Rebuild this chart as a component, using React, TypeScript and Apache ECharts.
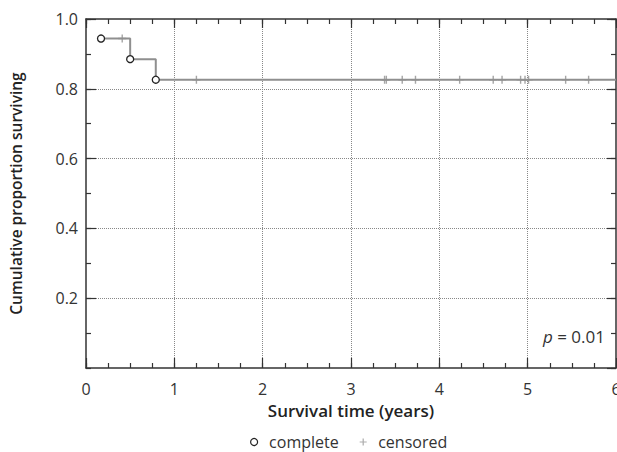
import React, { useEffect, useRef } from "react";
import * as echarts from "echarts";

// Kaplan–Meier step curve (time in years, cumulative proportion surviving)
const stepTimes = [0.17, 0.5, 0.79, 6];
const stepSurv = [0.944, 0.885, 0.826, 0.826];

// complete (event) points
const eventTimes = [0.17, 0.5, 0.79];
const eventSurv = [0.944, 0.885, 0.826];

// censored points
const censorTimes = [0.41, 1.25, 3.38, 3.4, 3.58, 3.73, 4.23, 4.61, 4.71, 4.92, 4.97, 5.01, 5.43, 5.69];
const censorSurv = [0.944, 0.826, 0.826, 0.826, 0.826, 0.826, 0.826, 0.826, 0.826, 0.826, 0.826, 0.826, 0.826, 0.826];

const xTicks = [0, 1, 2, 3, 4, 5, 6];
const yTicks = [0, 0.2, 0.4, 0.6, 0.8, 1.0];
const xMinorStep = 0.25;
const yMinorStep = 0.1;

const FONT = "Open Sans";
const PLUS = "path://M-0.7,-4H0.7V-0.7H4V0.7H0.7V4H-0.7V0.7H-4V-0.7H-0.7Z";

export default function App() {
  const ref = useRef<HTMLDivElement>(null);
  useEffect(() => {
    if (!ref.current) return;
    const chart = echarts.init(ref.current, undefined, { renderer: "svg" });
    const lineColor = "#333";
    const axisLine = { show: true, onZero: false, lineStyle: { color: lineColor, width: 1.5 } };
    const noLine = { show: false, onZero: false };
    const tick = (len: number) => ({
      show: true,
      inside: true,
      length: len,
      lineStyle: { color: lineColor, width: 1.2 },
    });
    const xBase = { type: "value", min: xTicks[0], max: xTicks[xTicks.length - 1], offset: 0 };
    const yBase = { type: "value", min: yTicks[0], max: yTicks[yTicks.length - 1], offset: 0 };
    const dotted = {
      show: true,
      showMinLine: false,
      showMaxLine: false,
      lineStyle: { type: "dotted", color: "#888", width: 1 },
    };
    chart.setOption({
      animation: false,
      textStyle: { fontFamily: FONT },
      grid: { left: 86, right: 1, top: 19, bottom: 84, containLabel: false, outerBoundsMode: "none" },
      xAxis: [
        {
          ...xBase,
          position: "bottom",
          interval: 1,
          axisLine,
          name: "Survival time (years)",
          nameLocation: "middle",
          nameGap: 33,
          nameTextStyle: { fontSize: 17, fontWeight: 600, color: "#222", fontFamily: FONT },
          axisTick: tick(10),
          axisLabel: {
            show: true,
            margin: 13,
            fontSize: 16,
            color: "#333",
            fontFamily: FONT,
            formatter: (v: number) => String(v),
          },
          splitLine: dotted,
        },
        {
          ...xBase,
          position: "top",
          interval: 1,
          axisLine,
          axisTick: tick(9),
          axisLabel: { show: false },
          splitLine: { show: false },
        },
        {
          ...xBase,
          position: "bottom",
          interval: xMinorStep,
          axisLine: noLine,
          axisTick: tick(5),
          axisLabel: { show: false },
          splitLine: { show: false },
        },
        {
          ...xBase,
          position: "top",
          interval: xMinorStep,
          axisLine: noLine,
          axisTick: tick(5),
          axisLabel: { show: false },
          splitLine: { show: false },
        },
      ],
      yAxis: [
        {
          ...yBase,
          position: "left",
          interval: 0.2,
          axisLine,
          name: "Cumulative proportion surviving",
          nameLocation: "middle",
          nameGap: 62,
          nameTextStyle: { fontSize: 15.5, fontWeight: 600, color: "#222", fontFamily: FONT },
          axisTick: tick(10),
          axisLabel: {
            show: true,
            margin: 8,
            fontSize: 16,
            color: "#333",
            fontFamily: FONT,
            showMinLabel: false,
            formatter: (v: number) => v.toFixed(1),
          },
          splitLine: dotted,
        },
        {
          ...yBase,
          position: "right",
          interval: 0.2,
          axisLine,
          axisTick: tick(9),
          axisLabel: { show: false },
          splitLine: { show: false },
        },
        {
          ...yBase,
          position: "left",
          interval: yMinorStep,
          axisLine: noLine,
          axisTick: tick(5),
          axisLabel: { show: false },
          splitLine: { show: false },
        },
        {
          ...yBase,
          position: "right",
          interval: yMinorStep,
          axisLine: noLine,
          axisTick: tick(5),
          axisLabel: { show: false },
          splitLine: { show: false },
        },
      ],
      legend: {
        left: 245,
        top: 429,
        itemGap: 21,
        itemWidth: 20,
        itemHeight: 7,
        textStyle: { fontSize: 16, color: "#333", fontFamily: FONT },
        data: [
          { name: "complete", icon: "circle", itemStyle: { color: "#fff", borderColor: "#222", borderWidth: 1.2 } },
          { name: "censored", icon: PLUS, itemStyle: { color: "#999", borderWidth: 0 } },
        ],
      },
      series: [
        {
          name: "curve",
          type: "line",
          step: "end",
          xAxisIndex: 0,
          yAxisIndex: 0,
          showSymbol: false,
          symbol: "none",
          lineStyle: { color: "#8f8f8f", width: 2 },
          data: stepTimes.map((t, i) => [t, stepSurv[i]]),
          z: 2,
        },
        {
          name: "censored",
          type: "scatter",
          xAxisIndex: 0,
          yAxisIndex: 0,
          symbol: PLUS,
          symbolSize: 8,
          itemStyle: { color: "#8f8f8f" },
          data: censorTimes.map((t, i) => [t, censorSurv[i]]),
          z: 3,
        },
        {
          name: "complete",
          type: "scatter",
          xAxisIndex: 0,
          yAxisIndex: 0,
          symbol: "circle",
          symbolSize: 7,
          itemStyle: { color: "#fff", borderColor: "#222", borderWidth: 1.3, opacity: 1 },
          data: eventTimes.map((t, i) => [t, eventSurv[i]]),
          z: 4,
        },
      ],
      graphic: [
        {
          type: "text",
          right: 12,
          top: 328,
          style: {
            text: "{i|p} = 0.01",
            font: `17px "${FONT}"`,
            fill: "#333",
            rich: { i: { fontStyle: "italic", fontSize: 17, fontFamily: FONT, fill: "#333" } },
          },
        },
      ],
    });
    return () => chart.dispose();
  }, []);
  return (
    <div
      ref={ref}
      style={{ position: "fixed", left: 0, top: 0, width: 617, height: 452, background: "#fff" }}
    />
  );
}
